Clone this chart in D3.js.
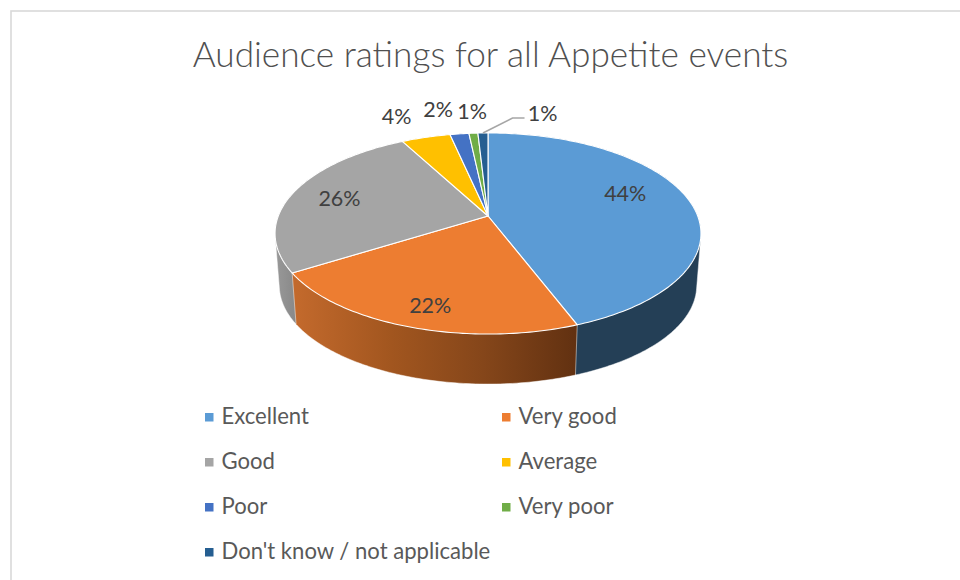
<!DOCTYPE html>
<html><head><meta charset="utf-8">
<script src="https://cdn.jsdelivr.net/npm/d3@7"></script>
<style>html,body{margin:0;padding:0;background:#fff}svg{display:block}</style>
</head><body><svg id="c" width="960" height="580"></svg>
<script>
const title = "Audience ratings for all Appetite events";
const categories = ["Excellent","Very good","Good","Average","Poor","Very poor","Don't know / not applicable"];
const shares = [44.2,21.9,26.1,4.4,1.7,0.8,0.9];
const colors = ["#5b9bd5","#ed7d31","#a5a5a5","#ffc000","#4472c4","#70ad47","#255e91"];
const labelRho = [0.7,0.7,0.7,1.1,1.1,1.1,1.1];
const labelNudge = [[-4,-11],[-5,15.5],[-11,-1],[-24,-15],[-19,-18],[0,-15],[60,-13]];

const W=960,H=580;
const svg=d3.select("#c");
const X0=488,Y0=216,A=209.7,B=97.5,K=0.174,BS=0.98,BY=268.4;
const project=(t,r=1)=>{const u=Math.sin(t)*r,v=Math.cos(t)*r,w=1+K*v;return [X0+A*u/w,Y0-B*v/w];};
const projectBase=(t)=>{const p=project(t);return [X0+BS*(p[0]-X0),BY+BS*(p[1]-Y0)];};
const line=d3.line();
const arcs=d3.pie().sort(null).value(d=>d)(shares);
const sample=(a,f)=>{const n=Math.max(2,Math.ceil((a.endAngle-a.startAngle)*60));return d3.range(n+1).map(i=>f(a.startAngle+(a.endAngle-a.startAngle)*i/n));};

// frame
svg.append("rect").attr("x",11).attr("y",11).attr("width",W+20).attr("height",H+20)
  .attr("fill","#fff").attr("stroke","#d9d9d9").attr("stroke-width",1.6);

// gradients for the side wall
const defs=svg.append("defs");
const grad=(id,stops)=>{const g=defs.append("linearGradient").attr("id",id).attr("gradientUnits","userSpaceOnUse")
  .attr("x1",298).attr("x2",576).attr("y1",0).attr("y2",0);
  stops.forEach((c,i)=>g.append("stop").attr("offset",i/(stops.length-1)).attr("stop-color",c));};
grad("wall1",["#c2692c","#a2561f","#85461a","#623111"]);
const gg=defs.append("linearGradient").attr("id","wall2").attr("gradientUnits","userSpaceOnUse").attr("x1",274).attr("x2",300).attr("y1",0).attr("y2",0);
gg.append("stop").attr("offset",0).attr("stop-color","#9a9a9a");
gg.append("stop").attr("offset",1).attr("stop-color","#858585");
const wallFill=["#243f56","url(#wall1)","url(#wall2)","#997300","#2a4476","#436829","#163856"];

// walls: the hull of each slice's upper and lower rim gives the straight side silhouette;
// front slices are painted last so the hull chords of the rear ones stay hidden
const wallOrder=[6,5,4,3,2,0,1];
svg.append("g").selectAll("path").data(wallOrder.map(i=>arcs[i])).join("path")
  .attr("d",a=>line(d3.polygonHull([...sample(a,project),...sample(a,projectBase)]))+"Z")
  .attr("fill",a=>wallFill[a.index]).attr("stroke","#fff").attr("stroke-width",0.6).attr("stroke-opacity",0.8);

// top faces
svg.append("g").selectAll("path").data(arcs).join("path")
  .attr("d",a=>line([[X0,Y0],...sample(a,project)])+"Z")
  .attr("fill",(a,i)=>colors[i]).attr("stroke","#fff").attr("stroke-width",1.1).attr("stroke-linejoin","round");

// labels
const pctFmt=d3.format(".0%");
const total=d3.sum(shares);
const labelPos=arcs.map((a,i)=>{const m=(a.startAngle+a.endAngle)/2,p=project(m,labelRho[i]);return [p[0]+labelNudge[i][0],p[1]+labelNudge[i][1]];});
const last=arcs[arcs.length-1], lp=labelPos[labelPos.length-1];
svg.append("path").attr("d",line([project((last.startAngle+last.endAngle)/2,1.0),[lp[0]-30,lp[1]+5],[lp[0]-18,lp[1]+5]]))
  .attr("fill","none").attr("stroke","#a6a6a6").attr("stroke-width",1.6);
svg.append("g").selectAll("text").data(arcs).join("text")
  .attr("x",(a,i)=>labelPos[i][0]).attr("y",(a,i)=>labelPos[i][1])
  .attr("text-anchor","middle").attr("dominant-baseline","central")
  .attr("font-family","Lato, 'Open Sans', sans-serif").attr("font-size",21.5).attr("fill","#404040")
  .text(a=>pctFmt(a.value/total));

// title
svg.append("text").attr("x",490.5).attr("y",67).attr("text-anchor","middle")
  .attr("font-family","Lato, 'Open Sans', sans-serif").attr("font-weight",300).attr("font-size",35.2).attr("fill","#505050")
  .text(title);

// legend
const legendX=d3.scalePoint().domain([0,1]).range([205,502]);
const legendY=d3.scalePoint().domain([0,1,2,3]).range([417,552]);
const items=svg.append("g").selectAll("g").data(categories).join("g")
  .attr("transform",(d,i)=>`translate(${legendX(i%2)},${legendY(Math.floor(i/2))})`);
items.append("rect").attr("x",0).attr("y",-4).attr("width",8.5).attr("height",8.5).attr("fill",(d,i)=>colors[i]);
items.append("text").attr("x",16.5).attr("y",-2).attr("dominant-baseline","central")
  .attr("font-family","Lato, 'Open Sans', sans-serif").attr("font-size",22.1).attr("fill","#595959").text(d=>d);
</script></body></html>
